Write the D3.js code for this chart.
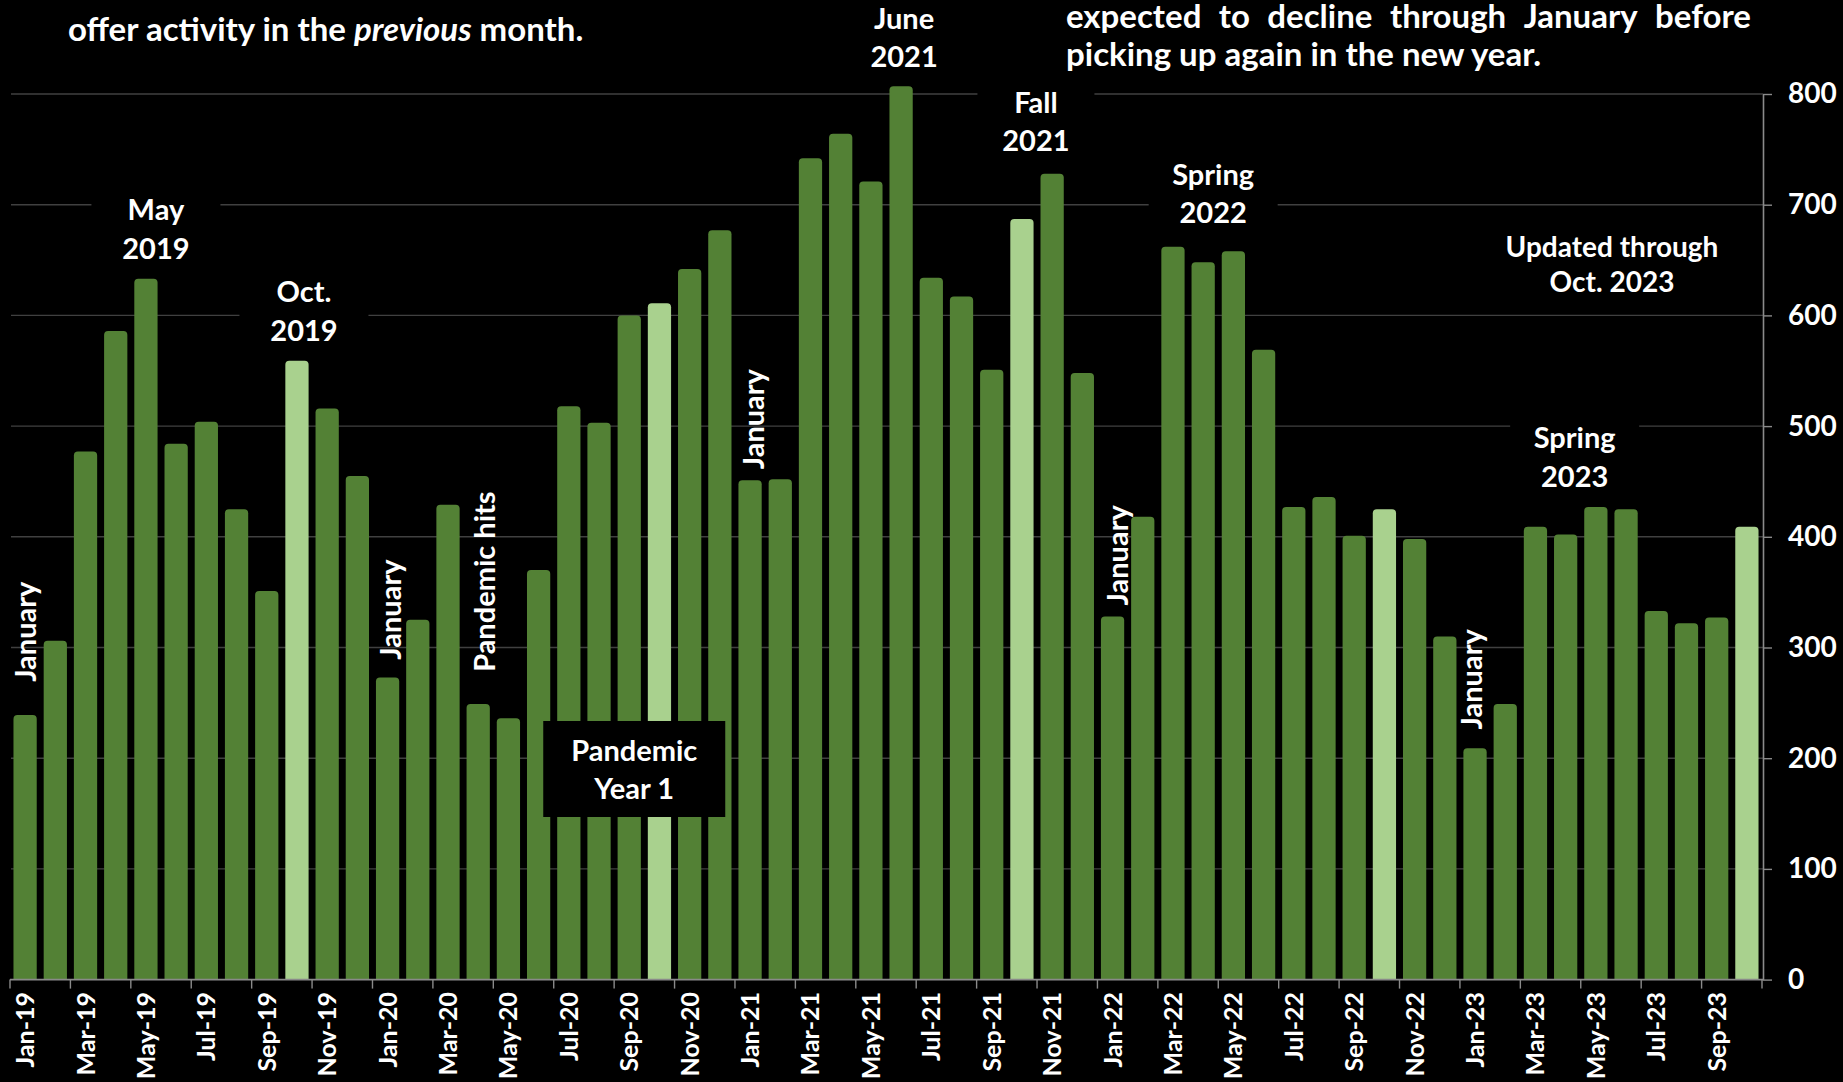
<!DOCTYPE html>
<html>
<head>
<meta charset="utf-8">
<script src="https://cdn.jsdelivr.net/npm/d3@7"></script>
<style>
  html, body { margin: 0; padding: 0; background: #000; }
  svg { display: block; }
  text { font-family: Lato, "Open Sans", sans-serif; font-weight: 700; fill: #fff; }
</style>
</head>
<body>
<svg id="chart" width="1843" height="1082"></svg>
<script>
// ---------------- data ----------------
const months = [
  "Jan-19","Feb-19","Mar-19","Apr-19","May-19","Jun-19","Jul-19","Aug-19","Sep-19","Oct-19","Nov-19","Dec-19",
  "Jan-20","Feb-20","Mar-20","Apr-20","May-20","Jun-20","Jul-20","Aug-20","Sep-20","Oct-20","Nov-20","Dec-20",
  "Jan-21","Feb-21","Mar-21","Apr-21","May-21","Jun-21","Jul-21","Aug-21","Sep-21","Oct-21","Nov-21","Dec-21",
  "Jan-22","Feb-22","Mar-22","Apr-22","May-22","Jun-22","Jul-22","Aug-22","Sep-22","Oct-22","Nov-22","Dec-22",
  "Jan-23","Feb-23","Mar-23","Apr-23","May-23","Jun-23","Jul-23","Aug-23","Sep-23","Oct-23"
];
const values = [
  239, 306, 477, 586, 633, 484, 504, 425, 351, 559, 516, 455,
  273, 325, 429, 249, 236, 370, 518, 503, 600, 611, 642, 677,
  451, 452, 742, 764, 721, 807, 634, 617, 551, 687, 728, 548,
  328, 418, 662, 648, 658, 569, 427, 436, 401, 425, 398, 310,
  209, 249, 409, 402, 427, 425, 333, 322, 327, 409
];
const highlightMonth = "Oct";
const xTickLabels = months.filter((d, i) => i % 2 === 0);
const yTicks = [0, 100, 200, 300, 400, 500, 600, 700, 800];

// boxed (horizontal) annotations: anchored to a category and a value level
const boxNotes = [
  { lines: ["May", "2019"], at: "May-19", dx: 10, v: 686, w: 129 },
  { lines: ["Oct.", "2019"], at: "Oct-19", dx: 7, v: 612, w: 129 },
  { lines: ["June", "2021"], at: "Jun-21", dx: 3, v: 859, w: 129 },
  { lines: ["Fall", "2021"], at: "Oct-21", dx: 14, v: 783, w: 117 },
  { lines: ["Spring", "2022"], at: "Apr-22", dx: 10, v: 718, w: 129 },
  { lines: ["Spring", "2023"], at: "Apr-23", dx: 9, v: 480, w: 129 }
];
// vertical annotations
const vertNotes = [
  { text: "January", at: "Jan-19", dx: 11, v: 269 },
  { text: "January", at: "Jan-20", dx: 13, v: 289 },
  { text: "January", at: "Jan-21", dx: 14, v: 461 },
  { text: "January", at: "Jan-22", dx: 15, v: 338 },
  { text: "January", at: "Jan-23", dx: 7, v: 226 },
  { text: "Pandemic hits", at: "Apr-20", dx: 17, v: 278 }
];

// ---------------- setup ----------------
const svg = d3.select("#chart");
svg.append("rect").attr("width", 1843).attr("height", 1082).attr("fill", "#000");

const xLeft = 10, xRight = 1762, axisX = 1763;
const x = d3.scaleBand().domain(months).range([xLeft, xRight]).paddingInner(0.23).paddingOuter(0.115);
const y = d3.scaleLinear().domain([0, 800]).range([979.6, 94]);
const step = x.step();
const cx = m => x(m) + x.bandwidth() / 2;

// gridlines
svg.append("g").selectAll("line").data(yTicks.filter(t => t > 0)).join("line")
  .attr("x1", 11).attr("x2", axisX)
  .attr("y1", d => y(d)).attr("y2", d => y(d))
  .attr("stroke", "#404040").attr("stroke-width", 1.4);

// annotation boxes (break the gridlines)
const FS = 29, LH = 38.5, TOPFS = 33;
function drawBoxNote(g, n) {
  const xc = cx(n.at) + n.dx, y0 = y(n.v);
  g.append("rect")
    .attr("x", xc - n.w / 2).attr("y", y0 - 27)
    .attr("width", n.w).attr("height", LH * (n.lines.length - 1) + 35)
    .attr("fill", "#000");
}
const boxLayer = svg.append("g");
boxNotes.forEach(n => drawBoxNote(boxLayer, n));

// bars with rounded tops
const r = 4;
function barPath(d, i) {
  const x0 = x(months[i]), w = x.bandwidth(), y0 = y(d), y1 = y(0);
  return `M${x0},${y1}V${y0 + r}Q${x0},${y0} ${x0 + r},${y0}H${x0 + w - r}Q${x0 + w},${y0} ${x0 + w},${y0 + r}V${y1}Z`;
}
svg.append("g").selectAll("path").data(values).join("path")
  .attr("d", barPath)
  .attr("fill", (d, i) => months[i].startsWith(highlightMonth) ? "#A9D18E" : "#538135");

// bottom axis line + ticks every 2 months
const baseY = y(0);
svg.append("line").attr("x1", xLeft).attr("x2", axisX).attr("y1", baseY).attr("y2", baseY)
  .attr("stroke", "#8a8a8a").attr("stroke-width", 1.6);
const tickXs = months.filter((d, i) => i % 2 === 0).map(m => x(m) - step * x.paddingInner() / 2).concat([xRight]);
svg.append("g").selectAll("line").data(tickXs).join("line")
  .attr("x1", d => d).attr("x2", d => d).attr("y1", baseY).attr("y2", baseY + 9)
  .attr("stroke", "#8a8a8a").attr("stroke-width", 1.4);

// x labels (rotated)
svg.append("g").selectAll("text").data(xTickLabels).join("text")
  .attr("transform", d => `translate(${cx(d) + 9},992) rotate(-90)`)
  .attr("text-anchor", "end")
  .attr("font-size", 25)
  .text(d => d);

// right y axis
const yAxis = d3.axisRight(y).tickValues(yTicks).tickSize(9).tickSizeOuter(0).tickPadding(16);
const ya = svg.append("g").attr("transform", `translate(${axisX},0)`).call(yAxis);
ya.select(".domain").attr("stroke", "#8a8a8a").attr("stroke-width", 1.6);
ya.selectAll(".tick line").attr("stroke", "#8a8a8a").attr("stroke-width", 1.4);
ya.selectAll(".tick text").attr("fill", "#fff").attr("font-size", 28)
  .attr("font-family", "Lato, sans-serif").attr("font-weight", 700);

// boxed annotation texts
boxNotes.forEach(n => {
  const xc = cx(n.at) + n.dx, y0 = y(n.v);
  n.lines.forEach((t, k) => {
    svg.append("text").attr("x", xc).attr("y", y0 + k * LH)
      .attr("text-anchor", "middle").attr("font-size", FS).text(t);
  });
});

// Pandemic Year 1 box over bars
{
  const xc = cx("Sep-20") + 5;
  svg.append("rect").attr("x", xc - 91).attr("y", 721).attr("width", 182).attr("height", 96).attr("fill", "#000");
  svg.append("text").attr("x", xc).attr("y", 761).attr("text-anchor", "middle").attr("font-size", FS).text("Pandemic");
  svg.append("text").attr("x", xc).attr("y", 799).attr("text-anchor", "middle").attr("font-size", FS).text("Year 1");
}

// vertical notes
vertNotes.forEach(n => {
  svg.append("text")
    .attr("transform", `translate(${cx(n.at) + n.dx},${y(n.v)}) rotate(-90)`)
    .attr("font-size", FS).text(n.text);
});

// Updated through note
svg.append("text").attr("x", 1612).attr("y", 257).attr("text-anchor", "middle").attr("font-size", 28).text("Updated through");
svg.append("text").attr("x", 1612).attr("y", 292).attr("text-anchor", "middle").attr("font-size", 28).text("Oct. 2023");

// top-left text
const tl = svg.append("text").attr("x", 68).attr("y", 41).attr("font-size", TOPFS);
tl.append("tspan").text("offer activity in the ");
tl.append("tspan").attr("font-style", "italic").text("previous");
tl.append("tspan").text(" month.");

// top-right justified paragraph
const line1 = ["expected", "to", "decline", "through", "January", "before"];
const L1x0 = 1066, L1x1 = 1751;
const tmp = line1.map(w => svg.append("text").attr("y", 28).attr("font-size", TOPFS).text(w));
const widths = tmp.map(t => t.node().getComputedTextLength());
const gap = (L1x1 - L1x0 - d3.sum(widths)) / (line1.length - 1);
let cur = L1x0;
tmp.forEach((t, i) => { t.attr("x", cur); cur += widths[i] + gap; });
svg.append("text").attr("x", 1066).attr("y", 66).attr("font-size", TOPFS).text("picking up again in the new year.");
</script>
</body>
</html>
